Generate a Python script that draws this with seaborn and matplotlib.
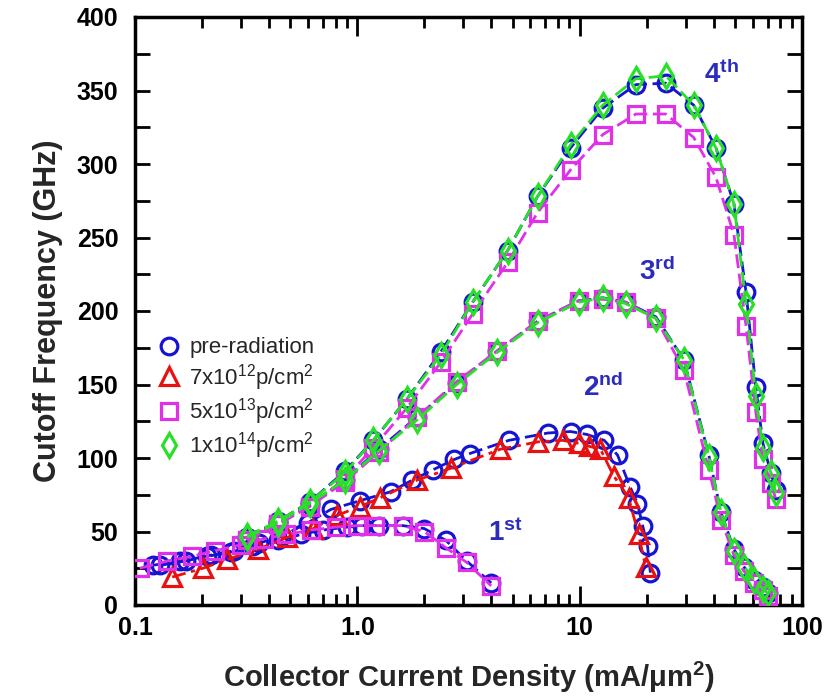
import numpy as np
import pandas as pd
import matplotlib
matplotlib.use("Agg")
import matplotlib.pyplot as plt
import seaborn as sns
from matplotlib.lines import Line2D
from matplotlib.ticker import FixedLocator, FixedFormatter, MultipleLocator, NullFormatter

# ---------------- data ----------------
# 1st curve
c1_pre_x = [0.12, 0.16, 0.21, 0.27, 0.34, 0.44, 0.56, 0.70, 0.90, 1.05, 1.25, 1.6, 2.0, 2.5, 3.1, 4.0]
c1_pre_y = [27, 30, 33, 36, 40, 44, 48, 51, 53, 54, 54, 54, 52, 44, 30, 15]
c1_5e13_x = [0.105, 0.14, 0.18, 0.23, 0.30, 0.38, 0.48, 0.62, 0.80, 1.0, 1.2, 1.6, 2.0, 2.5, 3.1, 4.0]
c1_5e13_y = [25, 30, 33, 37, 41, 45, 48, 51, 53, 54, 54, 54, 50, 39, 29, 13]

# 2nd curve
c2_pre_x = [0.13, 0.17, 0.22, 0.28, 0.36, 0.46, 0.60, 0.76, 1.03, 1.41, 1.77, 2.19, 2.73, 3.2,
            4.8, 7.2, 9.1, 10.8, 12.9, 14.8, 16.9, 18.2, 19.2, 20.2, 20.8]
c2_pre_y = [27, 30, 34, 37, 42, 47, 56, 65, 71, 77, 85, 92, 99, 103,
            112, 117, 118, 116, 112, 102, 80, 69, 54, 40, 22]
c2_7e12_x = [0.147, 0.202, 0.26, 0.358, 0.483, 0.634, 0.81, 1.03, 1.27, 1.86, 2.63, 4.4,
             6.5, 8.4, 9.9, 11.0, 12.4, 14.2, 16.6, 18.4, 19.8]
c2_7e12_y = [19, 25, 31, 38, 46, 52, 61, 67, 73, 85, 93, 106,
             111, 112, 110, 108, 106, 88, 73, 48, 26]

# 3rd curve
c3_x = [0.32, 0.44, 0.61, 0.88, 1.25, 1.86, 2.8, 4.27, 6.47, 9.9, 12.7, 16.1, 22.0, 29.4,
        38.1, 43.2, 49.4, 54.8, 60.8, 66.7, 70.3]
c3_pre_y = [45, 56, 68, 85, 106, 128, 151, 173, 193, 207, 209, 206, 196, 167, 102, 63, 38, 26, 17, 12, 8]
c3_5e13_y = [44, 55, 67, 84, 104, 128, 152, 173, 193, 207, 208, 206, 195, 160, 92, 58, 34, 23, 15, 10, 6]
c3_1e14_y = [46, 56, 69, 85, 105, 126, 150, 172, 192, 206, 209, 205, 195, 167, 101, 63, 37, 26, 17, 11, 8]

# 4th curve
c4_x = [0.32, 0.44, 0.61, 0.88, 1.18, 1.67, 2.37, 3.3, 4.74, 6.47, 9.1, 12.7, 17.9, 24.4,
        32.6, 41.0, 49.4, 56.0, 62.0, 66.7, 72.4, 76.3]
c4_pre_y = [46, 57, 70, 91, 112, 140, 172, 206, 241, 278, 311, 338, 354, 355, 340, 311, 273, 213, 148, 110, 90, 78]
c4_5e13_y = [44, 55, 67, 86, 107, 134, 165, 198, 233, 267, 296, 320, 334, 334, 318, 291, 252, 190, 131, 99, 83, 72]
c4_1e14_y = [47, 57, 70, 90, 112, 140, 170, 206, 241, 278, 313, 340, 358, 360, 340, 311, 273, 205, 142, 107, 90, 76]

series_labels = ["pre-radiation", "7x10$^{12}$p/cm$^{2}$", "5x10$^{13}$p/cm$^{2}$", "1x10$^{14}$p/cm$^{2}$"]
curve_labels = ["1", "2", "3", "4"]
curve_sups = ["st", "nd", "rd", "th"]

# ---------------- style ----------------
sns.set_style("ticks")
plt.rcParams["font.family"] = ["Liberation Sans", "DejaVu Sans"]
plt.rcParams["mathtext.fontset"] = "custom"
plt.rcParams["mathtext.rm"] = "Liberation Sans"
plt.rcParams["mathtext.it"] = "Liberation Sans:italic"
plt.rcParams["mathtext.bf"] = "Liberation Sans:bold"

colors = {"pre": "#1414d2", "7e12": "#e81010", "5e13": "#e030e8", "1e14": "#28e028"}
markers = {"pre": "o", "7e12": "^", "5e13": "s", "1e14": "d"}
msize = {"pre": 12, "7e12": 13, "5e13": 11, "1e14": 12}
dashes = {"pre": (5, 2), "7e12": (5, 2, 1.5, 2), "5e13": (5, 2), "1e14": (5, 2)}

fig = plt.figure(figsize=(8.31, 6.97), dpi=100)
ax = fig.add_axes([135 / 831, 1 - 605 / 697, 667 / 831, 588 / 697])

groups = [
    ("pre", c1_pre_x, c1_pre_y), ("5e13", c1_5e13_x, c1_5e13_y),
    ("pre", c2_pre_x, c2_pre_y), ("7e12", c2_7e12_x, c2_7e12_y),
    ("pre", c3_x, c3_pre_y), ("5e13", c3_x, c3_5e13_y), ("1e14", c3_x, c3_1e14_y),
    ("pre", c4_x, c4_pre_y), ("5e13", c4_x, c4_5e13_y), ("1e14", c4_x, c4_1e14_y),
]
order = {"pre": 0, "7e12": 1, "5e13": 2, "1e14": 3}
groups = sorted(groups, key=lambda g: order[g[0]])

for key, xs, ys in groups:
    df = pd.DataFrame({"x": xs, "y": ys})
    sns.lineplot(data=df, x="x", y="y", ax=ax, color=colors[key], marker=markers[key],
                 markersize=msize[key], markerfacecolor="none", markeredgecolor=colors[key],
                 markeredgewidth=2.3, linewidth=2.0, dashes=dashes[key], estimator=None,
                 sort=False, zorder=3 + order[key])

ax.set_xscale("log")
ax.set_xlim(0.1, 100)
ax.set_ylim(0, 400)

ax.xaxis.set_major_locator(FixedLocator([0.1, 1, 10, 100]))
ax.xaxis.set_major_formatter(FixedFormatter(["0.1", "1.0", "10", "100"]))
minor = [m * d for d in (0.1, 1, 10) for m in range(2, 10)]
ax.xaxis.set_minor_locator(FixedLocator(minor))
ax.xaxis.set_minor_formatter(NullFormatter())
ax.yaxis.set_major_locator(MultipleLocator(50))
ax.yaxis.set_minor_locator(MultipleLocator(25))

for s in ax.spines.values():
    s.set_visible(True)
    s.set_linewidth(2.5)
    s.set_color("black")

ax.tick_params(axis="both", which="both", direction="in", top=True, right=True, width=2, colors="black")
ax.tick_params(axis="x", which="major", length=14, pad=8)
ax.tick_params(axis="x", which="minor", length=8)
ax.tick_params(axis="y", which="both", length=11, pad=12)
for lab in ax.get_xticklabels() + ax.get_yticklabels():
    lab.set_fontsize(18)
    lab.set_fontweight("bold")

ax.set_xlabel("Collector Current Density (mA/μm$^{\\mathbf{2}}$)", fontsize=21, fontweight="bold", labelpad=14)
ax.set_ylabel("Cutoff Frequency (GHz)", fontsize=22, fontweight="bold", labelpad=10)

# annotations
ann_color = "#2b2bbf"
ann_pos = [(3.85, 49), (10.3, 148), (18.5, 227), (36.2, 361)]
for (xx, yy), num, sup in zip(ann_pos, curve_labels, curve_sups):
    ax.text(xx, yy, num + "$^{\\mathbf{" + sup + "}}$", color=ann_color, fontsize=20,
            fontweight="bold", ha="left", va="center")

# legend
keys = ["pre", "7e12", "5e13", "1e14"]
handles = [Line2D([], [], linestyle="none", marker=markers[k], markersize=msize[k],
                  markerfacecolor="none", markeredgecolor=colors[k], markeredgewidth=2.3)
           for k in keys]
leg = ax.legend(handles, series_labels, loc="upper left", bbox_to_anchor=(0.035, 0.455),
                frameon=False, fontsize=16, handlelength=1.0, handletextpad=0.4,
                labelspacing=0.15, borderpad=0, borderaxespad=0)

fig.savefig("out.png", dpi=100)
